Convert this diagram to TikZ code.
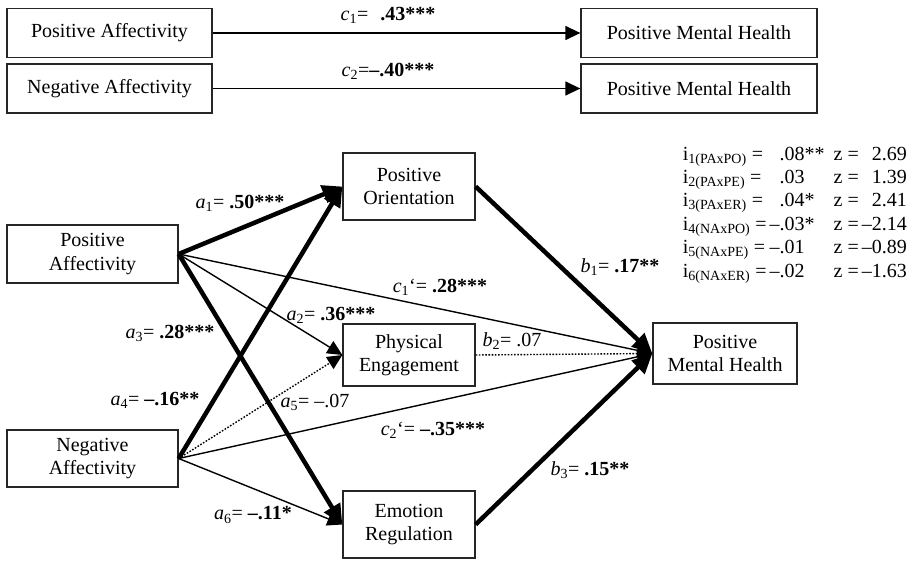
\documentclass[tikz,border=0pt]{standalone}
\usepackage{fontspec}
\setmainfont{Liberation Serif}
\usetikzlibrary{arrows.meta}
\tikzstyle{construct} = [draw=black!85, line width=1.3pt, inner sep=0pt, align=center, font=\fontsize{20}{23.5}\selectfont]
\tikzstyle{widebox} = [construct, minimum width=205pt, minimum height=49pt]
\tikzstyle{effect} = [line width=1.4pt, -{Triangle[length=15pt,width=14pt]}]
\tikzstyle{weak} = [effect, dash pattern=on 1.6pt off 1.6pt]
\tikzstyle{strong} = [line width=4.5pt, -{Triangle[length=20pt,width=18pt]}]
\tikzstyle{coef} = [inner sep=0pt, font=\fontsize{20}{24}\selectfont]
\newcommand{\cf}[3]{\textit{#1}\textsubscript{#2}=#3}

\begin{document}
\begin{tikzpicture}[x=1pt, y=-1pt]
\useasboundingbox (0,0) rectangle (913,560);
% total effects
\node[widebox] (pa0) at (109.5,33) {Positive Affectivity};
\node[widebox] (na0) at (109.5,88.5) {Negative Affectivity};
\node[construct, minimum width=236pt, minimum height=49pt] (mh1) at (699,33) {Positive Mental Health};
\node[construct, minimum width=236pt, minimum height=49pt] (mh2) at (699,88.5) {Positive Mental Health};
\draw[effect] (pa0.east) -- (mh1.west);
\draw[effect] (na0.east) -- (mh2.west);
\node[coef, anchor=base] (lc1) at (388,20) {\cf{c}{1}{\hspace{0.6em}\textbf{.43***}}};
\node[coef, anchor=base] (lc2) at (388,76) {\cf{c}{2}{\textbf{--.40***}}};

% mediation model
\node[construct, minimum width=171pt, minimum height=58pt] (pa) at (92.5,254) {Positive\\Affectivity};
\node[construct, minimum width=171pt, minimum height=57pt] (na) at (92.5,458.5) {Negative\\Affectivity};
\node[construct, minimum width=132pt, minimum height=67pt] (po) at (409,186.5) {Positive\\Orientation};
\node[construct, minimum width=132pt, minimum height=62pt] (pe) at (409,355) {Physical\\Engagement};
\node[construct, minimum width=132pt, minimum height=67pt] (er) at (409,524.5) {Emotion\\Regulation};
\node[construct, minimum width=144pt, minimum height=61pt] (mh) at (725,353.5) {Positive\\Mental Health};

\draw[effect] (pa.east) -- (pe.west);
\draw[effect] (pa.east) -- (mh.west);
\draw[effect] (na.east) -- (er.west);
\draw[effect] (na.east) -- (mh.west);
\draw[weak] (na.east) -- (pe.west);
\draw[weak] (pe.east) -- (mh.west);
\draw[strong] (pa.east) -- (po.west);
\draw[strong] (na.east) -- (po.west);
\draw[strong] (pa.east) -- (er.west);
\draw[strong] (po.east) -- (mh.west);
\draw[strong] (er.east) -- (mh.west);

\node[coef] (la1) at (240,203) {\cf{a}{1}{\ \textbf{.50***}}};
\node[coef] (la2) at (331,315) {\cf{a}{2}{\ \textbf{.36***}}};
\node[coef] (la3) at (170,333) {\cf{a}{3}{\ \textbf{.28***}}};
\node[coef] (la4) at (155,400) {\cf{a}{4}{\ \textbf{--.16**}}};
\node[coef] (la5) at (315,402) {\cf{a}{5}{\ --.07}};
\node[coef] (la6) at (253,515) {\cf{a}{6}{\ \textbf{--.11*}}};
\node[coef] (lb1) at (620,267) {\cf{b}{1}{\ \textbf{.17**}}};
\node[coef] (lb2) at (512,341) {\cf{b}{2}{\ .07}};
\node[coef] (lb3) at (590,470) {\cf{b}{3}{\ \textbf{.15**}}};
\node[coef] (lc1p) at (440,287) {\textit{c}\textsubscript{1}‘= \textbf{.28***}};
\node[coef] (lc2p) at (433,430) {\textit{c}\textsubscript{2}‘= \textbf{--.35***}};

% indirect effects
\node[anchor=north east, inner sep=0pt, font=\fontsize{20}{23.4}\selectfont] (ind) at (907,143.5) {%
\begin{tabular}{@{}l@{\hspace{3pt}}l@{\hspace{9pt}}l@{\hspace{3pt}}r@{}}
i\textsubscript{1(PAxPO)} = & \phantom{--}.08** & z = & 2.69\\
i\textsubscript{2(PAxPE)} = & \phantom{--}.03 & z = & 1.39\\
i\textsubscript{3(PAxER)} = & \phantom{--}.04* & z = & 2.41\\
i\textsubscript{4(NAxPO)} = & --.03* & z = & --2.14\\
i\textsubscript{5(NAxPE)} = & --.01 & z = & --0.89\\
i\textsubscript{6(NAxER)} = & --.02 & z = & --1.63
\end{tabular}};
\end{tikzpicture}
\end{document}
